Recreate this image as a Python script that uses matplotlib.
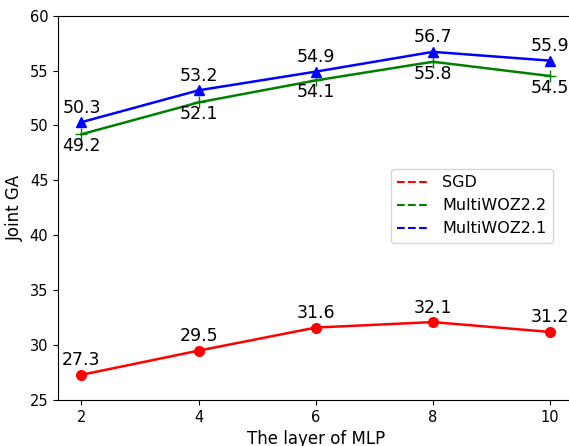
import matplotlib
matplotlib.use('Agg')
import matplotlib.pyplot as plt
from matplotlib.lines import Line2D

layers = [2, 4, 6, 8, 10]
sgd = [27.3, 29.5, 31.6, 32.1, 31.2]
woz22 = [49.2, 52.1, 54.1, 55.8, 54.5]
woz21 = [50.3, 53.2, 54.9, 56.7, 55.9]

fig = plt.figure(figsize=(5.69, 4.46), dpi=100)
ax = fig.add_axes([0.102, 0.103, 0.906, 0.862])

ax.plot(layers, sgd, color='red', marker='o', markersize=7, linewidth=1.8)
ax.plot(layers, woz22, color='green', marker='+', markersize=8, linewidth=1.8)
ax.plot(layers, woz21, color='blue', marker='^', markersize=7, linewidth=1.8)

# value labels
for x, y in zip(layers, sgd):
    ax.annotate(f'{y}', (x, y), xytext=(0, 4), textcoords='offset points', ha='center', va='bottom', fontsize=12.5)
for x, y in zip(layers, woz21):
    ax.annotate(f'{y}', (x, y), xytext=(0, 4), textcoords='offset points', ha='center', va='bottom', fontsize=12.5)
for x, y in zip(layers, woz22):
    ax.annotate(f'{y}', (x, y), xytext=(0, -2), textcoords='offset points', ha='center', va='top', fontsize=12.5)

ax.set_ylim(25, 60)
ax.set_xticks(layers)
ax.tick_params(labelsize=10.5)
ax.set_xlabel('The layer of MLP', fontsize=12)
ax.set_ylabel('Joint GA', fontsize=12)
# the original figure is cropped just left of the right spine
ax.spines['right'].set_visible(False)

handles = [Line2D([0], [0], color='red', linestyle='--'),
           Line2D([0], [0], color='green', linestyle='--'),
           Line2D([0], [0], color='blue', linestyle='--')]
ax.legend(handles, ['SGD', 'MultiWOZ2.2', 'MultiWOZ2.1'], loc='center right', fontsize=11.5,
          bbox_to_anchor=(0.975, 0.505))

fig.savefig('out.png', dpi=100)
